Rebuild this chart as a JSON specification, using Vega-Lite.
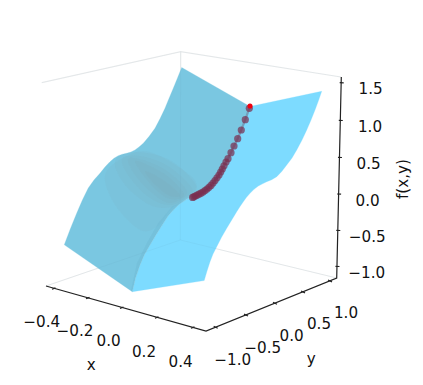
{"$schema":"https://vega.github.io/schema/vega-lite/v6.json","width":423,"height":385,"padding":0,"autosize":{"type":"none"},"background":"white","view":{"stroke":null},
"datasets":{
"bright":[{"i":0,"x":250,"y":106.5},{"i":1,"x":321.7,"y":91.3},{"i":2,"x":318.5,"y":100.5},{"i":3,"x":315,"y":110},{"i":4,"x":311,"y":120},{"i":5,"x":306.7,"y":130},{"i":6,"x":302,"y":140},{"i":7,"x":296.7,"y":150},{"i":8,"x":292,"y":158},{"i":9,"x":286.7,"y":165},{"i":10,"x":281.7,"y":171.5},{"i":11,"x":276.7,"y":176.7},{"i":12,"x":271.7,"y":179.7},{"i":13,"x":266.7,"y":181.7},{"i":14,"x":262.5,"y":183.8},{"i":15,"x":258.3,"y":186},{"i":16,"x":254,"y":189.3},{"i":17,"x":250,"y":193.3},{"i":18,"x":246.5,"y":197.3},{"i":19,"x":243.3,"y":201.7},{"i":20,"x":240,"y":206.5},{"i":21,"x":236.7,"y":211.7},{"i":22,"x":231.7,"y":220},{"i":23,"x":226.7,"y":228.3},{"i":24,"x":221.5,"y":237.3},{"i":25,"x":216.7,"y":246.7},{"i":26,"x":213,"y":254},{"i":27,"x":210,"y":261.7},{"i":28,"x":207,"y":271},{"i":29,"x":204.2,"y":280.5},{"i":30,"x":132.3,"y":291.7},{"i":31,"x":135.5,"y":278},{"i":32,"x":140,"y":265},{"i":33,"x":144.5,"y":254.5},{"i":34,"x":150,"y":245},{"i":35,"x":156.5,"y":234},{"i":36,"x":163.3,"y":223.3},{"i":37,"x":168,"y":216},{"i":38,"x":173.3,"y":210},{"i":39,"x":179.5,"y":204},{"i":40,"x":186.7,"y":199.3},{"i":41,"x":195,"y":195.5},{"i":42,"x":204,"y":191},{"i":43,"x":209,"y":187},{"i":44,"x":214,"y":182},{"i":45,"x":219.5,"y":173.5},{"i":46,"x":225,"y":164},{"i":47,"x":229.5,"y":155},{"i":48,"x":234,"y":146},{"i":49,"x":237.5,"y":138},{"i":50,"x":241,"y":130},{"i":51,"x":245.5,"y":118}],
"dark":[{"i":0,"x":181.7,"y":67.5},{"i":1,"x":250,"y":106.5},{"i":2,"x":245.5,"y":118},{"i":3,"x":241,"y":130},{"i":4,"x":237.5,"y":138},{"i":5,"x":234,"y":146},{"i":6,"x":229.5,"y":155},{"i":7,"x":225,"y":164},{"i":8,"x":219.5,"y":173.5},{"i":9,"x":214,"y":182},{"i":10,"x":209,"y":187},{"i":11,"x":204,"y":191},{"i":12,"x":195,"y":195.5},{"i":13,"x":186.7,"y":199.3},{"i":14,"x":179.5,"y":204},{"i":15,"x":173.3,"y":210},{"i":16,"x":168,"y":216},{"i":17,"x":163.3,"y":223.3},{"i":18,"x":156.5,"y":234},{"i":19,"x":150,"y":245},{"i":20,"x":144.5,"y":254.5},{"i":21,"x":140,"y":265},{"i":22,"x":135.5,"y":278},{"i":23,"x":132.3,"y":291.7},{"i":24,"x":64.3,"y":244.8},{"i":25,"x":70.3,"y":229},{"i":26,"x":76.7,"y":213.3},{"i":27,"x":82.3,"y":200.3},{"i":28,"x":88.3,"y":188},{"i":29,"x":94,"y":180},{"i":30,"x":100,"y":173.3},{"i":31,"x":105,"y":167},{"i":32,"x":110,"y":161.7},{"i":33,"x":114,"y":158.3},{"i":34,"x":118.3,"y":155.7},{"i":35,"x":122.5,"y":154.2},{"i":36,"x":126.7,"y":153.3},{"i":37,"x":131,"y":152},{"i":38,"x":135,"y":150},{"i":39,"x":139,"y":147},{"i":40,"x":143.3,"y":143.3},{"i":41,"x":149,"y":136.5},{"i":42,"x":155,"y":128.3},{"i":43,"x":160,"y":118.8},{"i":44,"x":165,"y":108.3},{"i":45,"x":169,"y":98.5},{"i":46,"x":173.3,"y":88.3},{"i":47,"x":177.5,"y":78}],
"shade":[{"s":"f","i":0,"x":105,"y":175},{"s":"f","i":1,"x":125,"y":157},{"s":"f","i":2,"x":150,"y":152},{"s":"f","i":3,"x":190,"y":175},{"s":"f","i":4,"x":195,"y":191},{"s":"f","i":5,"x":172,"y":208},{"s":"f","i":6,"x":158,"y":226},{"s":"f","i":7,"x":140,"y":230},{"s":"f","i":8,"x":115,"y":205},
{"s":"a","i":0,"x":115,"y":161},{"s":"a","i":1,"x":135,"y":152},{"s":"a","i":2,"x":170,"y":160},{"s":"a","i":3,"x":196,"y":185},{"s":"a","i":4,"x":189,"y":196},{"s":"a","i":5,"x":172,"y":207},{"s":"a","i":6,"x":150,"y":205},{"s":"a","i":7,"x":125,"y":185},
{"s":"b","i":0,"x":122,"y":159},{"s":"b","i":1,"x":140,"y":156},{"s":"b","i":2,"x":168,"y":166},{"s":"b","i":3,"x":192,"y":188},{"s":"b","i":4,"x":186,"y":197},{"s":"b","i":5,"x":171,"y":205},{"s":"b","i":6,"x":150,"y":198},{"s":"b","i":7,"x":130,"y":178},
{"s":"c","i":0,"x":128,"y":159},{"s":"c","i":1,"x":143,"y":160},{"s":"c","i":2,"x":167,"y":171},{"s":"c","i":3,"x":187,"y":192},{"s":"c","i":4,"x":170,"y":203},{"s":"c","i":5,"x":152,"y":193},{"s":"c","i":6,"x":135,"y":175},
{"s":"d","i":0,"x":135,"y":162},{"s":"d","i":1,"x":150,"y":166},{"s":"d","i":2,"x":170,"y":178},{"s":"d","i":3,"x":184,"y":195},{"s":"d","i":4,"x":170,"y":199},{"s":"d","i":5,"x":153,"y":187},
{"s":"e","i":0,"x":145,"y":171},{"s":"e","i":1,"x":165,"y":181},{"s":"e","i":2,"x":180,"y":195},{"s":"e","i":3,"x":170,"y":196},{"s":"e","i":4,"x":155,"y":185}],
"fold":[{"i":0,"x":132.3,"y":291.7},{"i":1,"x":135.5,"y":278},{"i":2,"x":140,"y":265},{"i":3,"x":144.5,"y":254.5},{"i":4,"x":150,"y":245},{"i":5,"x":156.5,"y":234},{"i":6,"x":163.3,"y":223.3},{"i":7,"x":168,"y":216},{"i":8,"x":173.3,"y":210},{"i":9,"x":179.5,"y":204},{"i":10,"x":186.7,"y":199.3},{"i":11,"x":171.7,"y":207},{"i":12,"x":158.3,"y":223},{"i":13,"x":147.3,"y":242},{"i":14,"x":137,"y":263},{"i":15,"x":131,"y":290}],
"path":[{"i":0,"x":250,"y":106},{"i":1,"x":249.3,"y":108.3},{"i":2,"x":245.3,"y":119.7},{"i":3,"x":241.3,"y":130},{"i":4,"x":237.7,"y":138.7},{"i":5,"x":234,"y":146},{"i":6,"x":231,"y":152.7},{"i":7,"x":228,"y":158.7},{"i":8,"x":226,"y":162},{"i":9,"x":224,"y":165.8},{"i":10,"x":222.3,"y":169},{"i":11,"x":220.7,"y":172},{"i":12,"x":219,"y":175},{"i":13,"x":217,"y":177.8},{"i":14,"x":215,"y":180.6},{"i":15,"x":213,"y":183.1},{"i":16,"x":211,"y":185.4},{"i":17,"x":209,"y":187.3},{"i":18,"x":207,"y":189},{"i":19,"x":205,"y":190.6},{"i":20,"x":203,"y":192},{"i":21,"x":201,"y":193.2},{"i":22,"x":199,"y":194.2},{"i":23,"x":197,"y":195.2},{"i":24,"x":195.3,"y":196},{"i":25,"x":193.8,"y":196.8},{"i":26,"x":192.6,"y":197.4}],
"pane":[{"s":"a","i":0,"x":41.7,"y":82.7},{"s":"a","i":1,"x":180.7,"y":51.7},{"s":"a","i":2,"x":341,"y":77},{"s":"b","i":0,"x":180.7,"y":51.7},{"s":"b","i":1,"x":180.3,"y":240},{"s":"c","i":0,"x":46,"y":286},{"s":"c","i":1,"x":180.3,"y":240},{"s":"c","i":2,"x":336.7,"y":278}],
"axes":[{"s":"xy","i":0,"x":46,"y":286},{"s":"xy","i":1,"x":206,"y":331},{"s":"xy","i":2,"x":336.7,"y":278},{"s":"xy","i":3,"x":341.3,"y":77},
{"s":"t1","i":0,"x":52,"y":289.3},{"s":"t1","i":1,"x":55.5,"y":287.9},{"s":"t2","i":0,"x":86,"y":298.8},{"s":"t2","i":1,"x":89.5,"y":297.4},{"s":"t3","i":0,"x":120,"y":308.4},{"s":"t3","i":1,"x":123.5,"y":307},{"s":"t4","i":0,"x":155,"y":318.2},{"s":"t4","i":1,"x":158.5,"y":316.8},{"s":"t5","i":0,"x":191,"y":328.3},{"s":"t5","i":1,"x":194.5,"y":326.9},
{"s":"t6","i":0,"x":213.7,"y":326.3},{"s":"t6","i":1,"x":217.7,"y":328.2},{"s":"t7","i":0,"x":244,"y":314.1},{"s":"t7","i":1,"x":248,"y":316},{"s":"t8","i":0,"x":273,"y":302.3},{"s":"t8","i":1,"x":277,"y":304.2},{"s":"t9","i":0,"x":301,"y":291},{"s":"t9","i":1,"x":305,"y":292.9},{"s":"t10","i":0,"x":328,"y":280},{"s":"t10","i":1,"x":332,"y":281.9},
{"s":"t11","i":0,"x":335.5,"y":266.3},{"s":"t11","i":1,"x":339.5,"y":266.5},{"s":"t12","i":0,"x":336.3,"y":230.3},{"s":"t12","i":1,"x":340.3,"y":230.5},{"s":"t13","i":0,"x":337.1,"y":194},{"s":"t13","i":1,"x":341.1,"y":194.2},{"s":"t14","i":0,"x":338,"y":157.3},{"s":"t14","i":1,"x":342,"y":157.5},{"s":"t15","i":0,"x":338.8,"y":120.3},{"s":"t15","i":1,"x":342.8,"y":120.5},{"s":"t16","i":0,"x":339.7,"y":82.7},{"s":"t16","i":1,"x":343.7,"y":82.9}],
"labels":[{"t":"−0.4","x":41.7,"y":321.7},{"t":"−0.2","x":75,"y":331},{"t":"0.0","x":108.7,"y":341},{"t":"0.2","x":144,"y":351.7},{"t":"0.4","x":180.7,"y":361.7},{"t":"x","x":91.3,"y":365},
{"t":"−1.0","x":232.7,"y":360.3},{"t":"−0.5","x":262.7,"y":348.3},{"t":"0.0","x":291.7,"y":335.7},{"t":"0.5","x":319,"y":324},{"t":"1.0","x":346,"y":312.7},{"t":"y","x":311.3,"y":359.3},
{"t":"1.5","x":370.7,"y":89.3},{"t":"1.0","x":370,"y":126.7},{"t":"0.5","x":368.7,"y":164},{"t":"0.0","x":367.7,"y":200.7},{"t":"−0.5","x":367.3,"y":237},{"t":"−1.0","x":366.7,"y":272.7}]
},
"encoding":{"x":{"field":"x","type":"quantitative","scale":{"domain":[0,423],"nice":false,"zero":false},"axis":null},"y":{"field":"y","type":"quantitative","scale":{"domain":[385,0],"nice":false,"zero":false},"axis":null},"order":{"field":"i","type":"quantitative"}},
"layer":[
{"data":{"name":"pane"},"mark":{"type":"line","stroke":"#efefef","strokeWidth":1.2},"encoding":{"detail":{"field":"s"}}},
{"data":{"name":"bright"},"mark":{"type":"line","fill":"#7ddbff","stroke":"#7ddbff","strokeWidth":0.3,"interpolate":"linear-closed"}},
{"data":{"name":"dark"},"mark":{"type":"line","fill":"#7ac7e1","stroke":"#7ac7e1","strokeWidth":0.3,"interpolate":"linear-closed"}},
{"data":{"name":"shade"},"mark":{"type":"line","fill":"#8a8a80","fillOpacity":0.05,"strokeOpacity":0,"interpolate":"cardinal-closed"},"encoding":{"detail":{"field":"s"}}},
{"data":{"name":"fold"},"mark":{"type":"line","fill":"#66aecb","fillOpacity":0.25,"strokeOpacity":0,"interpolate":"linear-closed"}},
{"data":{"name":"pane"},"mark":{"type":"line","stroke":"#5f8fa5","strokeWidth":1,"opacity":0.08},"encoding":{"detail":{"field":"s"}}},
{"data":{"name":"path"},"mark":{"type":"line","stroke":"#7090ad","strokeWidth":2.2,"opacity":0.8}},
{"data":{"name":"path"},"transform":[{"filter":"datum.i>0"}],"mark":{"type":"circle","size":52,"color":"#7a2d4e","opacity":0.7}},
{"data":{"name":"path"},"transform":[{"filter":"datum.i==0"}],"mark":{"type":"circle","size":26,"color":"#f00010","opacity":1}},
{"data":{"name":"axes"},"mark":{"type":"line","stroke":"#222222","strokeWidth":1.2},"encoding":{"detail":{"field":"s"}}},
{"data":{"name":"labels"},"mark":{"type":"text","font":"DejaVu Sans","fontSize":15.2,"color":"#111111","align":"center","baseline":"middle"},"encoding":{"text":{"field":"t"},"order":null}},
{"data":{"values":[{"t":"f(x,y)","x":403.3,"y":179}]},"mark":{"type":"text","font":"DejaVu Sans","fontSize":15.2,"color":"#111111","angle":270,"align":"center","baseline":"middle"},"encoding":{"text":{"field":"t"},"order":null}}
]}
